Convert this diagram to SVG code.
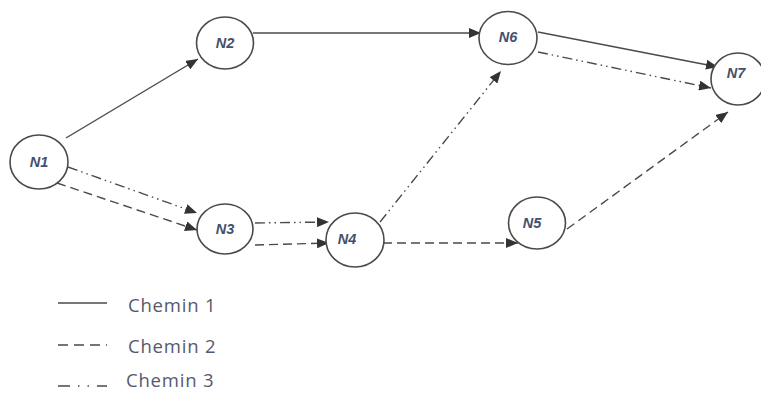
<svg xmlns="http://www.w3.org/2000/svg" width="761" height="393" viewBox="0 0 761 393">
<style>
.node ellipse{fill:#fff;stroke:#4a4a4a;stroke-width:1.6}
.node text{font-family:"Liberation Sans",Arial,sans-serif;font-size:14.5px;font-weight:bold;font-style:italic;fill:#46506c;text-anchor:middle}
.e{fill:none;stroke:#4a4a4a;stroke-width:1.4}
.c2{stroke-dasharray:9 5}
.c3{stroke-dasharray:10 4 1.5 4 1.5 4}
.lg{font-family:"Open Sans","Liberation Sans",sans-serif;font-size:18.5px;fill:#55596e;letter-spacing:0.8px}
</style>
<defs>
<marker id="ah" viewBox="0 0 12 10" refX="12" refY="5" markerWidth="12" markerHeight="10" markerUnits="userSpaceOnUse" orient="auto">
<path d="M0,0 L12,5 L0,10 z" fill="#333"/>
</marker>
</defs>
<rect width="761" height="393" fill="#fff"/>
<g id="connectors">
<line class="e" x1="66" y1="138" x2="198" y2="59" marker-end="url(#ah)"/>
<line class="e" x1="253" y1="33" x2="481" y2="33" marker-end="url(#ah)"/>
<line class="e c3" x1="68" y1="167" x2="197" y2="213" marker-end="url(#ah)"/>
<line class="e c2" x1="57" y1="183" x2="197" y2="230" marker-end="url(#ah)"/>
<line class="e c3" x1="255" y1="223" x2="329" y2="222" marker-end="url(#ah)"/>
<line class="e c2" x1="255" y1="245" x2="329" y2="243" marker-end="url(#ah)"/>
<line class="e c3" x1="380" y1="222" x2="501" y2="71" marker-end="url(#ah)"/>
<line class="e c2" x1="383" y1="243" x2="518" y2="243" marker-end="url(#ah)"/>
<line class="e" x1="538" y1="32" x2="718" y2="67" marker-end="url(#ah)"/>
<line class="e c3" x1="538" y1="52" x2="711" y2="88" marker-end="url(#ah)"/>
<line class="e c2" x1="567" y1="229" x2="728" y2="112" marker-end="url(#ah)"/>
</g>
<g id="N1" class="node"><ellipse cx="39" cy="162" rx="29" ry="27"/><text x="39" y="167">N1</text></g>
<g id="N2" class="node"><ellipse cx="225" cy="43" rx="28.5" ry="26"/><text x="225" y="48">N2</text></g>
<g id="N3" class="node"><ellipse cx="225" cy="229" rx="28" ry="25"/><text x="225" y="234">N3</text></g>
<g id="N4" class="node"><ellipse cx="355" cy="240" rx="29" ry="27"/><text x="347" y="244">N4</text></g>
<g id="N5" class="node"><ellipse cx="537" cy="223" rx="28.5" ry="26"/><text x="532" y="228">N5</text></g>
<g id="N6" class="node"><ellipse cx="508" cy="38" rx="29" ry="26.5"/><text x="508" y="42">N6</text></g>
<g id="N7" class="node"><ellipse cx="738" cy="79" rx="27" ry="26"/><text x="736" y="78">N7</text></g>
<g id="legend">
<line class="e" x1="58" y1="303" x2="107" y2="303"/>
<line class="e" x1="58" y1="345" x2="107" y2="345" stroke-dasharray="10 6"/>
<line class="e" x1="58" y1="386" x2="107" y2="386" stroke-dasharray="12 8 1.5 8 1.5 8"/>
<text class="lg" x="128" y="312">Chemin 1</text>
<text class="lg" x="128" y="353">Chemin 2</text>
<text class="lg" x="126" y="387">Chemin 3</text>
</g>
</svg>
